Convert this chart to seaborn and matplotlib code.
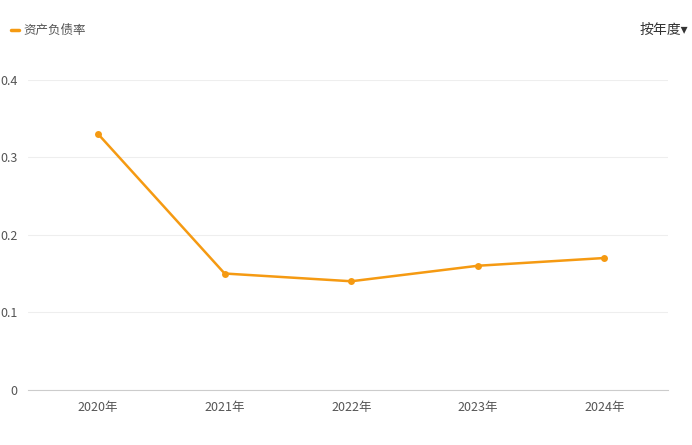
import matplotlib
matplotlib.use("Agg")
import matplotlib.pyplot as plt
import seaborn as sns
import pandas as pd

years = ["2020年", "2021年", "2022年", "2023年", "2024年"]
ratio = [0.33, 0.15, 0.14, 0.16, 0.17]
yticks = [0, 0.1, 0.2, 0.3, 0.4]
yticklabels = ["0", "0.1", "0.2", "0.3", "0.4"]

sns.set_style("white")
plt.rcParams['font.family'] = ['Noto Sans CJK SC', 'DejaVu Sans']

df = pd.DataFrame({"year": years, "ratio": ratio})
fig = plt.figure(figsize=(6.92, 4.45), dpi=100)
ax = fig.add_axes([0.041, 0.124, 0.924, 0.697])
color = "#F59A12"
sns.lineplot(data=df, x="year", y="ratio", ax=ax, color=color, marker="o",
             markersize=5, markeredgewidth=0, linewidth=1.8, sort=False)
ax.set_ylim(0, 0.4)
ax.set_xlim(-0.55, 4.5)
ax.set_yticks(yticks)
ax.set_yticklabels(yticklabels)
ax.grid(axis="y", color="#EEEEEE", linewidth=0.8)
for s in ["top", "right", "left"]:
    ax.spines[s].set_visible(False)
ax.spines["bottom"].set_color("#CCCCCC")
ax.tick_params(axis="both", length=0, labelsize=9, colors="#555555", pad=8)
ax.set_xlabel("")
ax.set_ylabel("")
fig.patch.set_facecolor("white")
fig.lines.append(plt.Line2D([0.016, 0.028], [0.932, 0.932], color=color, lw=2.5, transform=fig.transFigure))
fig.text(0.034, 0.932, "资产负债率", fontsize=9, color="#555555", va="center")
fig.text(0.995, 0.932, "按年度▾", fontsize=10, color="#333333", va="center", ha="right")
fig.savefig("out.png", dpi=100)
